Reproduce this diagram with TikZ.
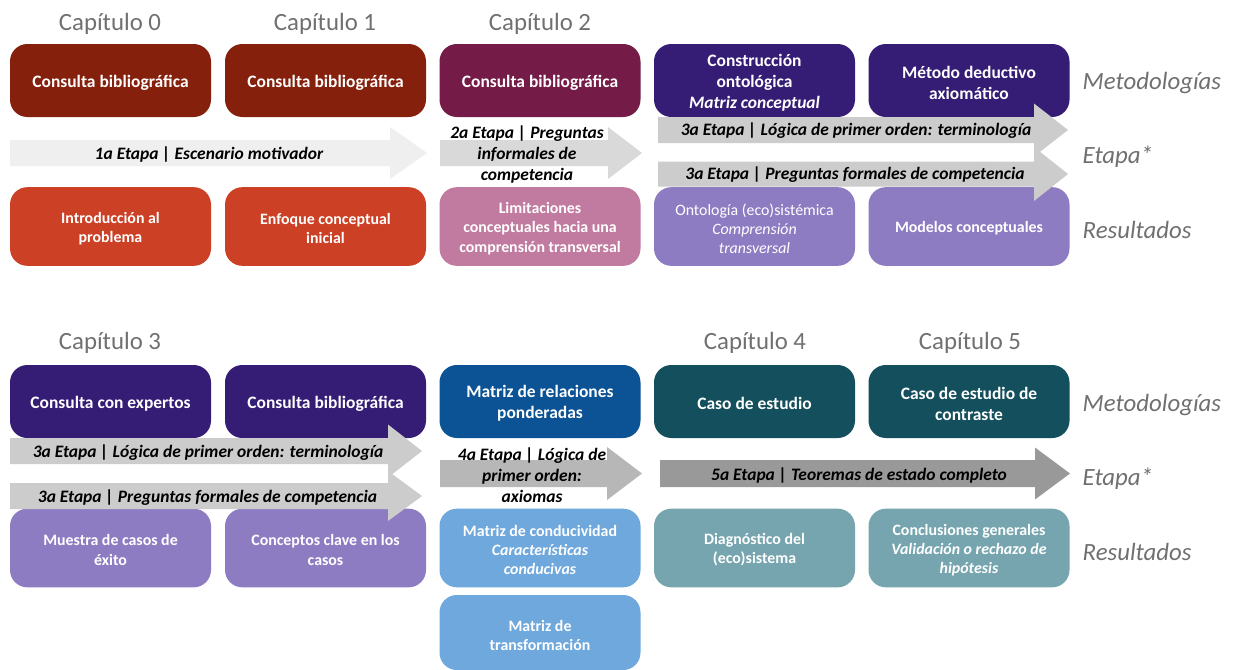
\documentclass[tikz,border=0pt]{standalone}
\usepackage{fontspec}
\setmainfont{Carlito}
\begin{document}
\begin{tikzpicture}[x=0.75pt,y=-0.75pt]
\definecolor{cRed}{HTML}{85200C}
\definecolor{cRedL}{HTML}{CC4125}
\definecolor{cMag}{HTML}{741B47}
\definecolor{cMagL}{HTML}{C27BA0}
\definecolor{cPur}{HTML}{351C75}
\definecolor{cPurL}{HTML}{8E7CC3}
\definecolor{cBlu}{HTML}{0B5394}
\definecolor{cBluL}{HTML}{6FA8DC}
\definecolor{cCya}{HTML}{134F5C}
\definecolor{cCyaL}{HTML}{76A5AF}
\definecolor{labelgray}{HTML}{707070}
\definecolor{gA}{HTML}{EFEFEF}
\definecolor{gB}{HTML}{D9D9D9}
\definecolor{gC}{HTML}{CCCCCC}
\definecolor{gD}{HTML}{B7B7B7}
\definecolor{gE}{HTML}{999999}
\tikzset{
  box/.style={rounded corners=13pt, minimum width=150.75pt, inner sep=0pt},
  metbox/.style={box, minimum height=54.75pt},
  resbox/.style={box, minimum height=59pt},
  metboxtext/.style={align=center, text=white, inner sep=0pt,
    font=\fontsize{13.1}{15.75}\selectfont\bfseries},
  resboxtext/.style={align=center, text=white, inner sep=0pt,
    font=\fontsize{11.9}{14.4}\selectfont\bfseries},
  chap/.style={font=\fontsize{18.6}{22}\selectfont, text=labelgray},
  rowlabel/.style={font=\fontsize{18.6}{22}\selectfont\itshape, text=labelgray, anchor=west},
  stagetext/.style={font=\fontsize{13.1}{15.75}\selectfont\bfseries\itshape,
    align=center, text=black, inner sep=0pt},
}
% rounded box with its text: style, fill, name, centre, text
\newcommand\cellbox[5]{%
  \node[#1, fill=#2] (#3) at (#4) {};
  \node[#1text] (#3-txt) at ([yshift=-1.5pt]#3.center) {#5};}
% block arrow: colour, left x, head start x, tip x, centre y, shaft half height, head half height
\newcommand\stagearrow[7]{%
  \fill[#1] (#2,#5-#6) -- (#3,#5-#6) -- (#3,#5-#7) -- (#4,#5)
    -- (#3,#5+#7) -- (#3,#5+#6) -- (#2,#5+#6) -- cycle;}

\fill[white] (0,0) rectangle (1236,669);
\useasboundingbox (0,0) rectangle (1236,669);
\clip (0,0) rectangle (1236,669);

% ---------- upper half ----------
\node[chap] (ch0) at (110,24) {Capítulo 0};
\node[chap] (ch1) at (325,24) {Capítulo 1};
\node[chap] (ch2) at (540,24) {Capítulo 2};

\cellbox{metbox}{cRed}{m0}{110.5,80.5}{Consulta bibliográfica}
\cellbox{metbox}{cRed}{m1}{325.5,80.5}{Consulta bibliográfica}
\cellbox{metbox}{cMag}{m2}{540,80.5}{Consulta bibliográfica}
\cellbox{metbox}{cPur}{m3}{754.5,80.5}{Construcción\\ontológica\\\textit{Matriz conceptual}}
\cellbox{metbox}{cPur}{m4}{969,80.5}{Método deductivo\\axiomático}

\cellbox{resbox}{cRedL}{r0}{110.5,226.5}{Introducción al\\problema}
\cellbox{resbox}{cRedL}{r1}{325.5,226.5}{Enfoque conceptual\\inicial}
\cellbox{resbox}{cMagL}{r2}{540,226.5}{Limitaciones\\conceptuales hacia una\\comprensión transversal}
\cellbox{resbox}{cPurL}{r3}{754.5,226.5}{\mdseries Ontología (eco)sistémica\\\mdseries\itshape Comprensión\\\mdseries\itshape transversal}
\cellbox{resbox}{cPurL}{r4}{969,226.5}{Modelos conceptuales}

\stagearrow{gA}{10}{390}{427}{153}{13}{26}
\stagearrow{gB}{440}{608}{642}{153}{13}{26}
\stagearrow{gC}{658}{1034}{1068}{130}{13}{26.5}
\stagearrow{gC}{658}{1034}{1068}{174}{12.5}{27}

\node[stagetext] (s1) at (209,154) {1a Etapa | Escenario motivador};
\node[stagetext] (s2) at (527,154) {2a Etapa | Preguntas\\informales de\\competencia};
\node[stagetext] (s3a) at (856,131) {3a Etapa | Lógica de primer orden: terminología};
\node[stagetext] (s3b) at (855,175) {3a Etapa | Preguntas formales de competencia};

\node[rowlabel] (lm1) at (1078,83) {Metodologías};
\node[rowlabel] (le1) at (1078,157) {Etapa*};
\node[rowlabel] (lr1) at (1078,230) {Resultados};

% ---------- lower half ----------
\node[chap] (ch3) at (110,343) {Capítulo 3};
\node[chap] (ch4) at (755,343) {Capítulo 4};
\node[chap] (ch5) at (970,343) {Capítulo 5};

\cellbox{metbox}{cPur}{n0}{110.5,401.5}{Consulta con expertos}
\cellbox{metbox}{cPur}{n1}{325.5,401.5}{Consulta bibliográfica}
\cellbox{metbox}{cBlu}{n2}{540,401.5}{Matriz de relaciones\\ponderadas}
\cellbox{metbox}{cCya}{n3}{754.5,401.5}{Caso de estudio}
\cellbox{metbox}{cCya}{n4}{969,401.5}{Caso de estudio de\\contraste}

\cellbox{resbox}{cPurL}{q0}{110.5,548}{Muestra de casos de\\éxito}
\cellbox{resbox}{cPurL}{q1}{325.5,548}{Conceptos clave en los\\casos}
\cellbox{resbox}{cBluL}{q2}{540,548}{Matriz de conducividad\\\textit{Características}\\\textit{conducivas}}
\cellbox{resbox}{cCyaL}{q3}{754.5,548}{Diagnóstico del\\(eco)sistema}
\cellbox{resbox}{cCyaL}{q4}{969,548}{Conclusiones generales\\\textit{Validación o rechazo de}\\\textit{hipótesis}}
\node[resbox, fill=cBluL, minimum height=56.25pt] (q5) at (540,632.5) {};
\node[resboxtext] (q5-txt) at (540,635.5) {Matriz de\\transformación};

\stagearrow{gC}{10}{388}{422}{451}{13}{26.5}
\stagearrow{gC}{10}{388}{422}{496}{13}{25}
\stagearrow{gD}{440}{607}{642}{473.5}{13.5}{26.5}
\stagearrow{gE}{660}{1035}{1070}{473.5}{13.5}{26}

\node[stagetext] (t3a) at (208,453) {3a Etapa | Lógica de primer orden: terminología};
\node[stagetext] (t3b) at (207.5,498) {3a Etapa | Preguntas formales de competencia};
\node[stagetext] (t4) at (532,475) {4a Etapa | Lógica de\\primer orden:\\axiomas};
\node[stagetext] (t5) at (859,475) {5a Etapa | Teoremas de estado completo};

\node[rowlabel] (lm2) at (1078,405) {Metodologías};
\node[rowlabel] (le2) at (1078,479) {Etapa*};
\node[rowlabel] (lr2) at (1078,552) {Resultados};
\end{tikzpicture}
\end{document}
